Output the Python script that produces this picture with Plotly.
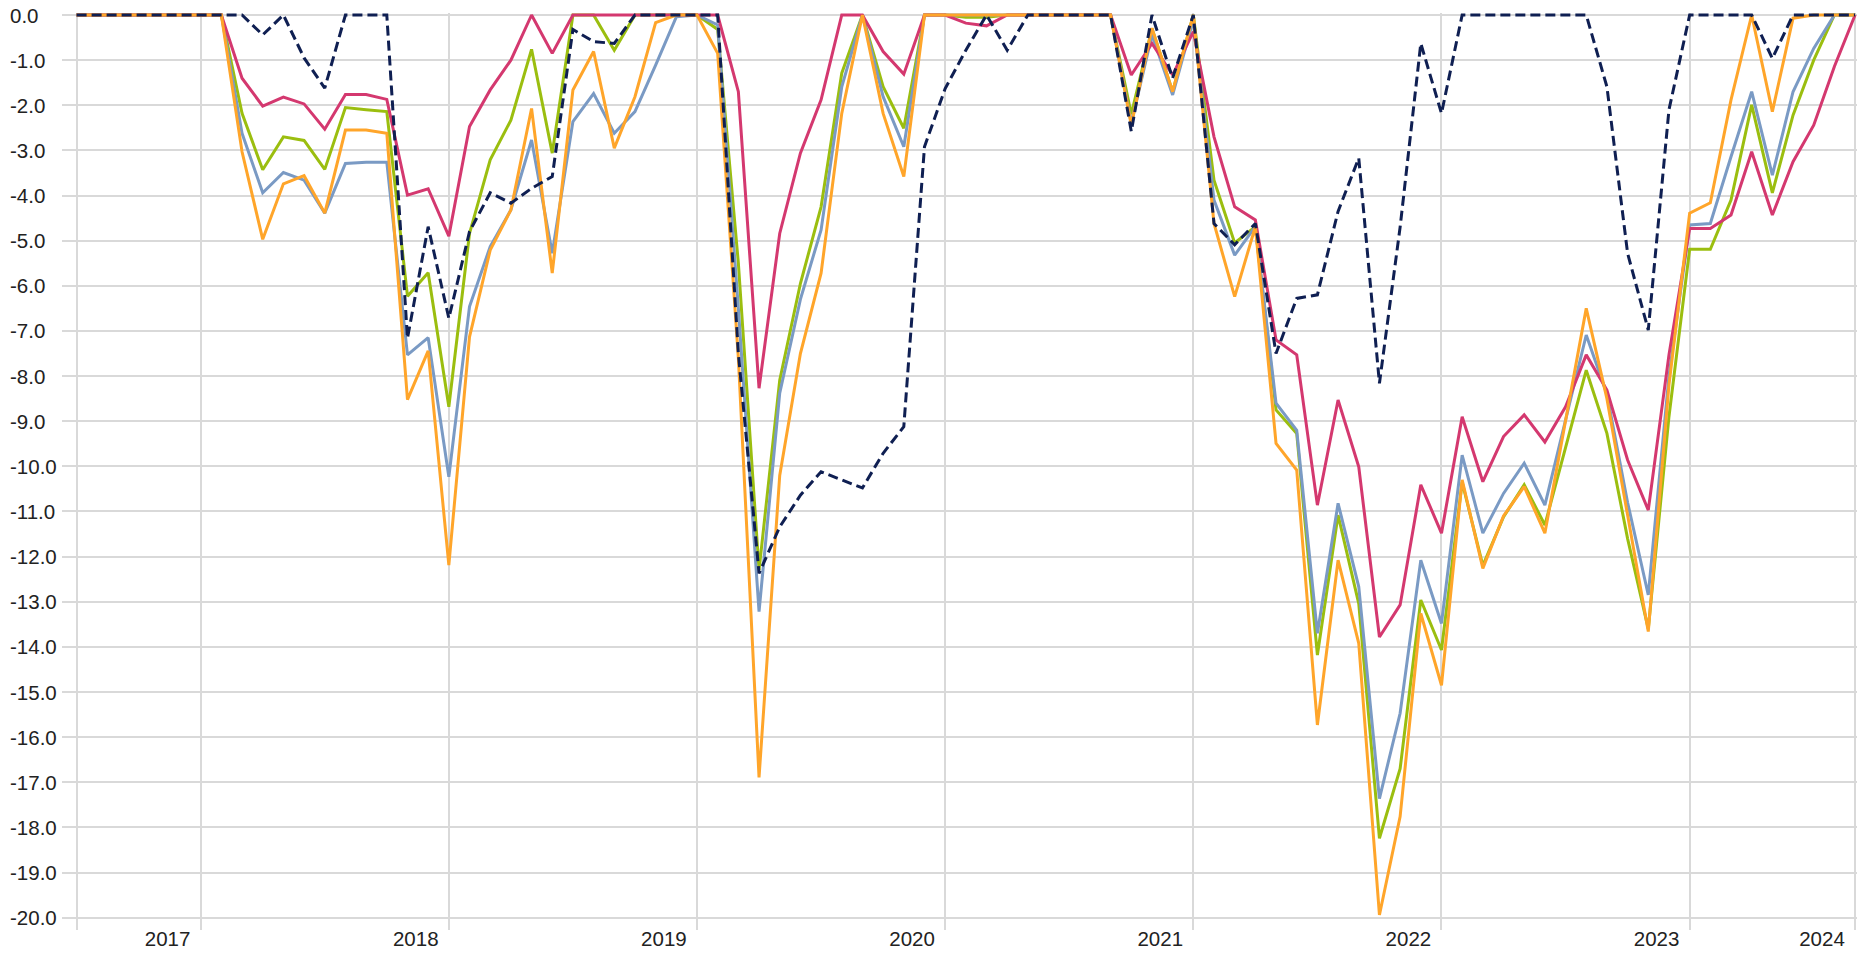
import plotly.graph_objects as go

# month index (0 = first observation), 87 monthly observations
months = list(range(87))

# year labels and where they sit on the month index axis
year_labels = ["2017", "2018", "2019", "2020", "2021", "2022", "2023", "2024"]
year_label_pos = [4.4, 16.4, 28.4, 40.4, 52.4, 64.4, 76.4, 84.4]
# vertical separator lines on the month index axis
separator_pos = [0, 6, 18, 30, 42, 54, 66, 78, 86]

# y tick values / labels
y_ticks = [0, -1, -2, -3, -4, -5, -6, -7, -8, -9, -10, -11, -12, -13, -14, -15, -16, -17, -18, -19, -20]
y_labels = ["%.1f" % v for v in y_ticks]

series_red = [0, 0, 0, 0, 0, 0, 0, 0, -1.40, -2.02, -1.82, -1.97, -2.53, -1.76, -1.76, -1.87,
              -3.99, -3.85, -4.90, -2.47, -1.66, -1.00, 0, -0.85, 0, 0, 0, 0, 0, 0,
              0, 0, -1.70, -8.27, -4.84, -3.06, -1.88, 0, 0, -0.81, -1.31, 0, 0, -0.18,
              -0.24, 0, 0, 0, 0, 0, 0, -1.33, -0.63, -1.33, -0.37, -2.70, -4.25, -4.54,
              -7.20, -7.53, -10.86, -8.53, -10.01, -13.78, -13.07, -10.41, -11.48, -8.90,
              -10.34, -9.34, -8.86, -9.46, -8.68, -7.53, -8.31, -9.86, -10.97, -7.53,
              -4.73, -4.73, -4.43, -3.03, -4.43, -3.25, -2.44, -1.14, 0]

series_green = [0, 0, 0, 0, 0, 0, 0, 0, -2.18, -3.43, -2.70, -2.78, -3.42, -2.05, -2.10, -2.14,
                -6.23, -5.71, -8.68, -4.84, -3.21, -2.33, -0.76, -3.06, 0, 0, -0.78, 0, 0, 0,
                0, -0.32, -5.50, -12.30, -8.09, -5.95, -4.25, -1.29, 0, -1.59, -2.51, 0, 0, -0.05,
                -0.05, 0, 0, 0, 0, 0, 0, -2.20, -0.30, -1.70, 0, -3.66, -5.05, -4.69,
                -8.75, -9.27, -14.18, -11.08, -13.04, -18.24, -16.70, -12.96, -14.07, -10.35,
                -12.20, -11.12, -10.41, -11.30, -9.60, -7.87, -9.27, -11.60, -13.60, -8.90,
                -5.19, -5.19, -4.10, -1.99, -3.94, -2.22, -1.00, 0, 0]

series_blue = [0, 0, 0, 0, 0, 0, 0, 0, -2.62, -3.94, -3.49, -3.66, -4.39, -3.29, -3.26, -3.26,
               -7.53, -7.15, -10.23, -6.46, -5.13, -4.32, -2.77, -5.28, -2.36, -1.74, -2.62, -2.14, -1.11, -0.04,
               0, -0.22, -6.50, -13.22, -8.38, -6.30, -4.76, -1.59, 0, -1.81, -2.92, 0, 0, 0,
               0, 0, 0, 0, 0, 0, 0, -2.40, -0.44, -1.77, -0.10, -4.10, -5.32, -4.69,
               -8.60, -9.20, -13.70, -10.82, -12.67, -17.36, -15.47, -12.08, -13.48, -9.75,
               -11.48, -10.60, -9.93, -10.86, -8.97, -7.09, -8.40, -10.80, -12.85, -8.00,
               -4.65, -4.62, -3.14, -1.70, -3.55, -1.70, -0.74, 0, 0]

series_orange = [0, 0, 0, 0, 0, 0, 0, 0, -3.03, -4.97, -3.74, -3.56, -4.39, -2.55, -2.55, -2.62,
                 -8.52, -7.44, -12.19, -7.13, -5.21, -4.32, -2.07, -5.72, -1.66, -0.81, -2.95, -1.81, -0.17, 0,
                 0, -0.85, -7.60, -16.89, -10.20, -7.50, -5.72, -2.18, 0, -2.18, -3.58, 0, 0, 0,
                 0, 0, 0, 0, 0, 0, 0, -2.44, -0.29, -1.70, 0, -4.62, -6.24, -4.69,
                 -9.49, -10.08, -15.73, -12.08, -13.92, -19.94, -17.76, -13.26, -14.85, -10.30,
                 -12.26, -11.10, -10.45, -11.48, -8.99, -6.50, -8.50, -11.10, -13.66, -8.20,
                 -4.39, -4.16, -1.88, 0, -2.14, -0.07, 0, 0, 0]

series_dashed = [0, 0, 0, 0, 0, 0, 0, 0, 0, -0.44, 0, -0.95, -1.62, 0, 0, 0,
                 -7.16, -4.69, -6.72, -4.80, -3.94, -4.17, -3.84, -3.58, -0.32, -0.59, -0.63, 0, 0, 0,
                 0, 0, -7.50, -12.37, -11.34, -10.64, -10.12, -10.30, -10.48, -9.71, -9.12, -2.92, -1.63, -0.78,
                 0, -0.78, 0, 0, 0, 0, 0, -2.58, 0, -1.40, 0, -4.62, -5.09, -4.62,
                 -7.50, -6.28, -6.20, -4.35, -3.17, -8.16, -4.70, -0.63, -2.18, 0,
                 0, 0, 0, 0, 0, 0, -1.59, -5.28, -6.98, -2.10,
                 0, 0, 0, 0, -0.96, 0, 0, 0, 0]

FONT = "Liberation Sans, Arial, sans-serif"
GRID = "#D9D9D9"
TEXT = "#222222"

fig = go.Figure()
traces = [
    ("green", series_green, "#9BBE0F", "solid"),
    ("blue", series_blue, "#7A9AC4", "solid"),
    ("red", series_red, "#D4386F", "solid"),
    ("orange", series_orange, "#FFA52A", "solid"),
    ("dashed", series_dashed, "#0F1F52", "10px,5px"),
]
for name, vals, col, dash in traces:
    fig.add_trace(go.Scatter(x=months, y=vals, mode="lines", name=name,
                             line=dict(color=col, width=3, dash=dash),
                             showlegend=False, hoverinfo="skip"))

# plot geometry (pixels)
L, R, T, B = 62, 1857, 13, 930
k0_px, px_per_month = 76.6, 20.68
y0_px, px_per_unit = 15.0, 45.135
xmin = -(k0_px - L) / px_per_month
xmax = (R - k0_px) / px_per_month
ymax = (y0_px - T) / px_per_unit
ymin = -(B - y0_px) / px_per_unit

fig.update_layout(
    width=1871, height=953,
    margin=dict(l=L, r=1871 - R, t=T, b=953 - B, pad=0, autoexpand=False),
    paper_bgcolor="white", plot_bgcolor="white",
    font=dict(family=FONT, size=20.5, color=TEXT),
    xaxis=dict(range=[xmin, xmax], tickmode="array", tickvals=year_label_pos, ticktext=year_labels,
               showgrid=False, zeroline=False, showline=False, ticks="",
               ticklabelstandoff=-6,
               tickfont=dict(family=FONT, size=20.5, color=TEXT), automargin=False,
               minor=dict(tickmode="array", tickvals=separator_pos, showgrid=True,
                          gridcolor=GRID, gridwidth=2, ticks="")),
    yaxis=dict(range=[ymin, ymax], tickmode="array", tickvals=y_ticks, showticklabels=False,
               showgrid=True, gridcolor=GRID, gridwidth=2, zeroline=False, showline=False,
               ticks="", automargin=False),
)

for v, lab in zip(y_ticks, y_labels):
    fig.add_annotation(x=0, xref="paper", y=v, yref="y", text=lab, showarrow=False,
                       xanchor="left", yanchor="middle", xshift=-54,
                       font=dict(family=FONT, size=20.5, color=TEXT))

fig.write_html("out.html", config={"displayModeBar": False},
               post_script="document.body.style.margin='0';document.body.style.overflow='hidden';")
